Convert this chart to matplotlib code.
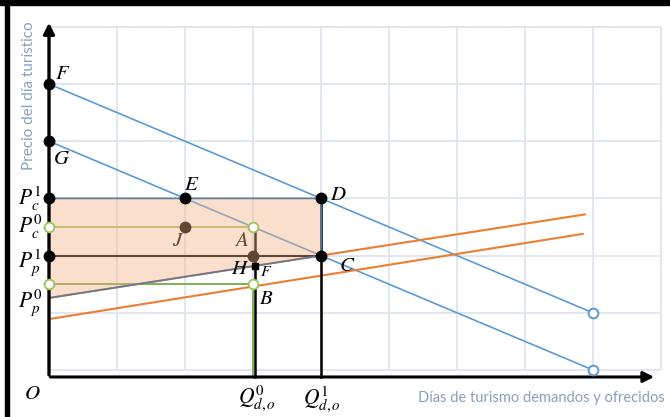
import matplotlib.pyplot as plt
from matplotlib.patches import Rectangle, Polygon

plt.rcParams["mathtext.fontset"] = "stix"

# demand curves (grid units)
d1_x = [0, 4, 8]
d1_y = [5, 3, 1]
d0_x = [0, 2, 4, 8]
d0_y = [4, 3, 2, 0]
# supply curves
s1_x = [0, 7.88]
s1_y = [1.26, 2.72]
s0_x = [0, 7.85]
s0_y = [0.89, 2.38]

q0, q1 = 3, 4
pc1, pc0, pp1, pp0 = 3, 2.5, 2, 1.5
f_y = 1.81  # supply S1 at q0

blue = "#5b9bd5"
orange = "#ed7d31"
green = "#70ad47"
title_col = "#8a9fbe"

fig = plt.figure(figsize=(6.7, 4.17), dpi=100)
ax = fig.add_axes([0, 0, 1, 1])
ax.set_xlim(-0.7206, 9.132)
ax.set_ylim(-0.8217, 6.4685)
ax.axis("off")

# grid
ax.vlines(range(1, 10), 0, 6, color="#dfe5ee", lw=1.3, zorder=0)
ax.hlines(range(0, 7), 0, 9, color="#dfe5ee", lw=1.3, zorder=0)

# black frame pieces
fig.add_artist(Rectangle((0, 1 - 5 / 417), 1, 5 / 417, transform=fig.transFigure, color="black"))
fig.add_artist(Rectangle((5 / 670, 0), 4 / 670, 1, transform=fig.transFigure, color="black"))

# curves
ax.plot(d1_x, d1_y, color=blue, lw=1.2, zorder=2)
ax.plot(d0_x, d0_y, color=blue, lw=1.2, zorder=2)
ax.plot(s1_x, s1_y, color=orange, lw=1.5, zorder=2)
ax.plot(s0_x, s0_y, color=orange, lw=1.5, zorder=2)

# price / quantity guides
ax.plot([0, q0], [pc0, pc0], color="#9cc35a", lw=1.3, zorder=2)
ax.plot([0, q0], [pp0, pp0], color=green, lw=1.3, zorder=2)
ax.plot([0, q1], [pp1, pp1], color="black", lw=1.5, zorder=2)
ax.plot([q0, q0], [-0.12, pp0], color=green, lw=1.3, zorder=2)
ax.plot([q0 + 0.03, q0 + 0.03], [-0.12, pc0], color="black", lw=1.8, zorder=2)
ax.plot([q1, q1], [-0.12, pc1], color="black", lw=1.8, zorder=2)
ax.plot([2, 3], [2.5, 2], "o", color="black", ms=7.5, zorder=2)

# shaded area
ax.add_patch(Polygon([(0, pc1), (q1, pc1), (q1, pp1), (0, s1_y[0])], closed=True,
                     facecolor="#f4b183", alpha=0.4, edgecolor="none", zorder=3))
ax.add_patch(Polygon([(0, pc1), (q1, pc1), (q1, pp1), (0, s1_y[0])], closed=True,
                     facecolor="none", edgecolor="#5d7a9c", lw=1.2, zorder=3))

# axes
ax.annotate("", xy=(0, 6.12), xytext=(0, -0.135),
            arrowprops=dict(arrowstyle="-|>", color="black", lw=2.4, mutation_scale=16), zorder=5)
ax.annotate("", xy=(8.94, -0.122), xytext=(-0.02, -0.122),
            arrowprops=dict(arrowstyle="-|>", color="black", lw=2.2, mutation_scale=16), zorder=5)

# points
ax.plot([0, 0, 0, 2, 4, 4, 0], [5, 4, pc1, 3, 3, 2, pp1], "o", color="black", ms=7.5, zorder=6)
ax.plot([q0 + 0.03], [f_y], "s", color="black", ms=5, zorder=6)
ax.plot([0, q0, 0, q0], [pc0, pc0, pp0, pp0], "o", mfc="white", mec="#9cc35a", mew=1.3, ms=7, zorder=6)
ax.plot([8, 8], [1, 0], "o", mfc="white", mec=blue, mew=1.4, ms=7, zorder=6)

# labels
lab = dict(fontsize=15, zorder=7)
ax.text(0.2, 5.2, r"$F$", ha="center", va="center", **lab)
ax.text(0.18, 3.7, r"$G$", ha="center", va="center", **lab)
ax.text(2.1, 3.26, r"$E$", ha="center", va="center", **lab)
ax.text(4.25, 3.08, r"$D$", ha="center", va="center", **lab)
ax.text(1.9, 2.27, r"$J$", ha="center", va="center", fontsize=15, zorder=2)
ax.text(2.83, 2.28, r"$A$", ha="center", va="center", fontsize=15, zorder=2)
ax.text(2.81, 1.79, r"$H$", ha="center", va="center", **lab)
ax.text(3.2, 1.72, r"$F$", ha="center", va="center", fontsize=11.5, zorder=7)
ax.text(4.38, 1.83, r"$C$", ha="center", va="center", **lab)
ax.text(3.2, 1.26, r"$B$", ha="center", va="center", **lab)
ax.text(-0.25, -0.4, r"$O$", ha="center", va="center", **lab)

ax.text(-0.28, pc1, r"$P_c^1$", ha="center", va="center", fontsize=15.5)
ax.text(-0.28, pc0, r"$P_c^0$", ha="center", va="center", fontsize=15.5)
ax.text(-0.28, 1.88, r"$P_p^1$", ha="center", va="center", fontsize=15.5)
ax.text(-0.28, 1.17, r"$P_p^0$", ha="center", va="center", fontsize=15.5)
ax.text(3.06, -0.5, r"$Q_{d,o}^0$", ha="center", va="center", fontsize=15.5)
ax.text(4.02, -0.5, r"$Q_{d,o}^1$", ha="center", va="center", fontsize=15.5)

ax.text(5.43, -0.49, "Días de turismo demandos y ofrecidos", ha="left", va="center",
        fontsize=10.5, color=title_col, family="Lato")
ax.text(-0.29, 4.8, "Precio del día turístico", ha="center", va="center", rotation=90,
        fontsize=11, color=title_col, family="Lato")

fig.savefig("out.png", dpi=100)
